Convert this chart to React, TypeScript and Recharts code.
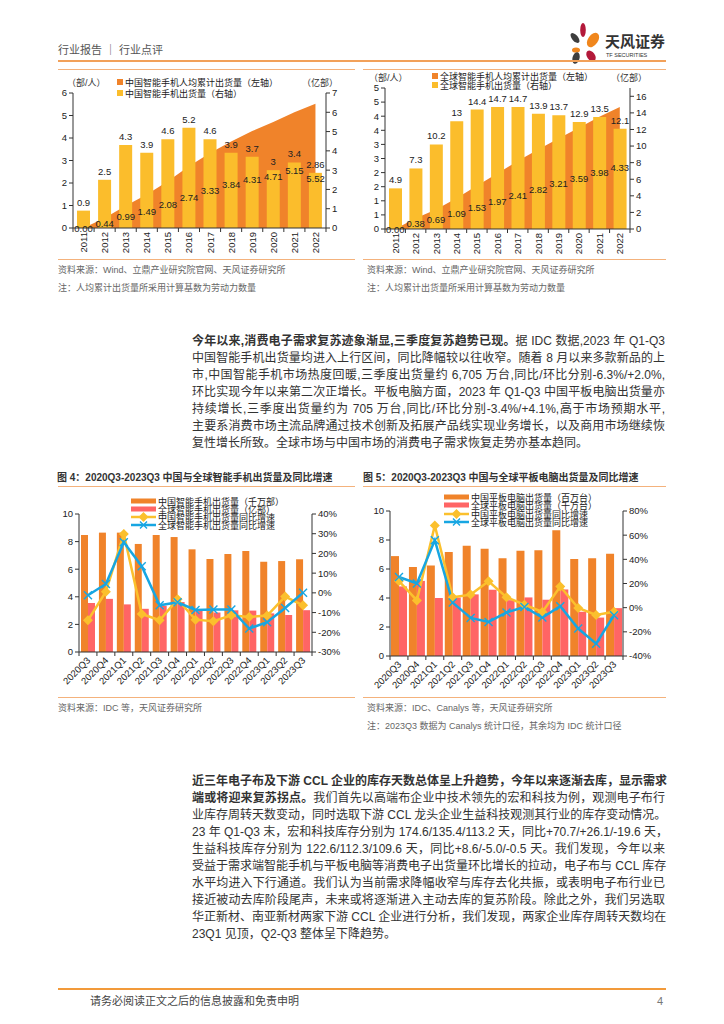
import React from "react";
import { ComposedChart, Bar, Area, Line, XAxis, YAxis, LabelList } from "recharts";

// ── data ────────────────────────────────────────────────────────

const years = ["2011", "2012", "2013", "2014", "2015", "2016", "2017", "2018", "2019", "2020", "2021", "2022"];
const cnPerCapita = [0.0, 0.44, 0.99, 1.49, 2.08, 2.74, 3.33, 3.84, 4.31, 4.71, 5.15, 5.52];
const cnShipments = [0.9, 2.5, 4.3, 3.9, 4.6, 5.2, 4.6, 3.9, 3.7, 3, 3.4, 2.86];
const glPerCapita = [0.0, 0.38, 0.69, 1.09, 1.53, 1.97, 2.41, 2.82, 3.21, 3.59, 3.98, 4.33];
const glShipments = [4.9, 7.3, 10.2, 13, 14.4, 14.7, 14.7, 13.9, 13.7, 12.9, 13.5, 12.1];

const cnLeftTicks = [0, 1, 2, 3, 4, 5, 6];
const cnRightTicks = [0, 1, 2, 3, 4, 5, 6, 7];
const glLeftTicks = [0, 0.5, 1, 1.5, 2, 2.5, 3, 3.5, 4, 4.5, 5];
const glLeftTickLabels = ["0", "1", "1", "2", "2", "3", "3", "4", "4", "5", "5"];
const glRightTicks = [0, 2, 4, 6, 8, 10, 12, 14, 16];

const quarters = ["2020Q3", "2020Q4", "2021Q1", "2021Q2", "2021Q3", "2021Q4", "2022Q1", "2022Q2", "2022Q3", "2022Q4", "2023Q1", "2023Q2", "2023Q3"];
const cnPhone = [8.48, 8.65, 8.65, 7.83, 8.48, 8.33, 7.44, 6.74, 7.1, 7.32, 6.54, 6.59, 6.72];
const glPhone = [3.55, 3.85, 3.45, 3.13, 3.35, 3.62, 3.1, 2.86, 3.02, 3.0, 2.8, 2.68, 3.03];
const cnPhoneYoy = [-13.9, 0.6, 29.9, -10.7, -13.9, -3.3, -13.6, -14.4, -11.4, -12.2, -11.5, -1.9, -6.3];
const glPhoneYoy = [-1.2, 4.5, 25.7, 13.5, -6.3, -4.8, -8.7, -8.5, -8.4, -18.1, -14.9, -7.7, 0.1];
const phoneLeftTicks = [0, 2, 4, 6, 8, 10];
const phoneRightTicks = [-30, -20, -10, 0, 10, 20, 30, 40];

const cnPad = [6.89, 6.13, 6.25, 7.17, 7.61, 7.4, 6.75, 7.26, 7.29, 8.67, 6.69, 6.75, 7.05];
const glPad = [4.8, 5.18, 4.0, 4.03, 4.25, 4.57, 3.85, 4.04, 3.88, 4.59, 3.05, 2.65, 3.3];
const cnPadYoy = [22, 6, 68, 8.6, 10.8, 21.8, 8.6, 2.5, -3.5, 17.5, -0.3, -6, -3.4];
const glPadYoy = [25.4, 20, 55.8, 4.2, -8.5, -11.8, -4, 0.6, -8.2, 1.2, -17.3, -29.8, -6.3];
const padLeftTicks = [0, 2, 4, 6, 8, 10];
const padRightTicks = [-40, -20, 0, 20, 40, 60, 80];

// ── styles ──────────────────────────────────────────────────────

const NUM = '"Liberation Sans", Arial, sans-serif';
const CN = '"Liberation Sans", "Noto Sans CJK SC", sans-serif';
const ORANGE = "#F0832A";
const YELLOW = "#FBBD2C";
const PINK = "#FF6565";
const GOLD = "#FBC02D";
const BLUE = "#17A6E2";
const AXIS = "#333";
const RULE = "#F4B27C";

const tickStyle = { fontSize: 9.5, fill: "#222", fontFamily: NUM };

// x ticks with marks between categories, labels rotated
const makeTick = (bw: number, n: number, angle: number) => (props: any) => {
  const { x, y, payload, index } = props;
  const tx = angle === -90 ? x : x + 3;
  const ty = angle === -90 ? y + 4 : y + 9;
  return (
    <g>
      <line x1={x - bw / 2} x2={x - bw / 2} y1={y} y2={y + 4} stroke={AXIS} />
      {index === n - 1 && <line x1={x + bw / 2} x2={x + bw / 2} y1={y} y2={y + 4} stroke={AXIS} />}
      <text
        x={tx}
        y={ty}
        transform={`rotate(${angle} ${tx} ${ty})`}
        textAnchor="end"
        dominantBaseline={angle === -90 ? "central" : "auto"}
        fontSize={9.5}
        fill="#222"
        fontFamily={NUM}
      >
        {payload.value}
      </text>
    </g>
  );
};

// label of the cumulative series, set halfway down its area,
// pushed below the bar's own label when the two would collide
const midLabel = (base: number, plotH: number, rightMax: number, ships: number[]) => (props: any) => {
  const vb = props.viewBox || {};
  const x = (vb.x ?? props.x) + (vb.width || 0) / 2;
  const y = vb.y ?? props.y;
  const barTop = base - (ships[props.index] / rightMax) * plotH;
  const ly = Math.max((y + base) / 2, barTop + 6);
  return (
    <text x={x} y={ly} textAnchor="middle" dominantBaseline="central" fontSize={9.5} fill="#222" fontFamily={NUM}>
      {Number(props.value).toFixed(2)}
    </text>
  );
};

const Diamond = (p: any) => (
  <path key={p.index} d={`M${p.cx} ${p.cy - 5}L${p.cx + 5} ${p.cy}L${p.cx} ${p.cy + 5}L${p.cx - 5} ${p.cy}Z`} fill={GOLD} />
);
const Cross = (p: any) => (
  <path key={p.index} d={`M${p.cx - 4} ${p.cy - 4}L${p.cx + 4} ${p.cy + 4}M${p.cx + 4} ${p.cy - 4}L${p.cx - 4} ${p.cy + 4}`} stroke={BLUE} strokeWidth={1.4} />
);

// ── small layout helpers ────────────────────────────────────────

function Txt({ x, y, size = 9, color = "#333", bold = false, children }: any) {
  return (
    <div
      style={{
        position: "absolute",
        left: x,
        top: y - size,
        height: size * 2,
        lineHeight: `${size * 2}px`,
        fontSize: size,
        color,
        fontWeight: bold ? 700 : 400,
        fontFamily: CN,
        whiteSpace: "nowrap",
      }}
    >
      {children}
    </div>
  );
}

function Rule({ x1, x2, y, h = 1, color = RULE }: any) {
  return <div style={{ position: "absolute", left: x1, top: y, width: x2 - x1, height: h, background: color }} />;
}

function LegendRow({ x, y, kind, color, label }: any) {
  return (
    <div style={{ position: "absolute", left: x, top: y - 6, height: 12, display: "flex", alignItems: "center" }}>
      <svg width={26} height={12} style={{ display: "block" }}>
        {kind === "bar" && <rect x={0} y={3.5} width={25} height={5} fill={color} />}
        {kind === "diamond" && (
          <>
            <line x1={0} x2={25} y1={6} y2={6} stroke={color} strokeWidth={2.5} />
            <path d="M12.5 1L17.5 6L12.5 11L7.5 6Z" fill={color} />
          </>
        )}
        {kind === "cross" && (
          <>
            <line x1={0} x2={25} y1={6} y2={6} stroke={color} strokeWidth={2.5} />
            <path d="M9 2.5L16 9.5M16 2.5L9 9.5" stroke={color} strokeWidth={1.4} />
          </>
        )}
      </svg>
      <span style={{ fontSize: 9, fontFamily: CN, color: "#222", marginLeft: 1 }}>{label}</span>
    </div>
  );
}

function SquareRow({ x, y, color, label }: any) {
  return (
    <div style={{ position: "absolute", left: x, top: y - 6, height: 12, display: "flex", alignItems: "center" }}>
      <div style={{ width: 6, height: 6, background: color, marginRight: 2 }} />
      <span style={{ fontSize: 9, fontFamily: CN, color: "#222" }}>{label}</span>
    </div>
  );
}

// ── charts ──────────────────────────────────────────────────────

function AnnualChart({ left, top, perCapita, shipments, leftTicks, leftLabels, leftMax, rightTicks, rightMax, yl, yr, plotH }: any) {
  const data = years.map((y, i) => ({ year: y, perCapita: perCapita[i], ship: shipments[i] }));
  const width = 320;
  const height = 190;
  const plotW = width - yl - yr;
  const xh = height - 13 - plotH;
  return (
    <div style={{ position: "absolute", left, top }}>
      <ComposedChart width={width} height={height} data={data} margin={{ top: 13, right: 0, bottom: 0, left: 0 }} barSize={13}>
        <XAxis
          dataKey="year"
          height={xh}
          interval={0}
          tickLine={false}
          tickSize={0}
          tickMargin={0}
          axisLine={{ stroke: AXIS }}
          tick={makeTick(plotW / years.length, years.length, -90)}
        />
        <YAxis
          yAxisId="l"
          width={yl}
          domain={[0, leftMax]}
          ticks={leftTicks}
          tickFormatter={(v: number, i: number) => (leftLabels ? leftLabels[i] : String(v))}
          tick={tickStyle}
          tickSize={4}
          tickLine={{ stroke: AXIS }}
          axisLine={{ stroke: AXIS }}
          interval={0}
        />
        <YAxis
          yAxisId="r"
          orientation="right"
          width={yr}
          domain={[0, rightMax]}
          ticks={rightTicks}
          tick={tickStyle}
          tickSize={4}
          tickLine={{ stroke: AXIS }}
          axisLine={{ stroke: AXIS }}
          interval={0}
        />
        <Area yAxisId="l" dataKey="perCapita" type="linear" stroke="none" fill={ORANGE} fillOpacity={1} isAnimationActive={false} />
        <Bar yAxisId="r" dataKey="ship" fill={YELLOW} isAnimationActive={false}>
          <LabelList dataKey="ship" position="top" offset={5} style={{ fontSize: 9.5, fill: "#222", fontFamily: NUM }} />
        </Bar>
        <Line yAxisId="l" dataKey="perCapita" stroke="none" dot={false} activeDot={false} isAnimationActive={false}>
          <LabelList dataKey="perCapita" content={midLabel(13 + plotH, plotH, rightMax, shipments)} />
        </Line>
      </ComposedChart>
    </div>
  );
}

function QuarterChart({ left, top, height, cn, gl, cnYoy, glYoy, leftTicks, rightTicks, rightDomain, yl, yr, plotW, plotH, barSize }: any) {
  const data = quarters.map((q, i) => ({ q, cn: cn[i], gl: gl[i], cnYoy: cnYoy[i], glYoy: glYoy[i] }));
  const width = yl + yr + plotW;
  const xh = height - 14 - plotH;
  return (
    <div style={{ position: "absolute", left, top }}>
      <ComposedChart width={width} height={height} data={data} margin={{ top: 14, right: 0, bottom: 0, left: 0 }} barGap={0} barSize={barSize}>
        <XAxis
          dataKey="q"
          height={xh}
          interval={0}
          tickLine={false}
          tickSize={0}
          tickMargin={0}
          axisLine={{ stroke: AXIS }}
          tick={makeTick(plotW / quarters.length, quarters.length, -45)}
        />
        <YAxis
          yAxisId="l"
          width={yl}
          domain={[0, 10]}
          ticks={leftTicks}
          tick={tickStyle}
          tickSize={4}
          tickLine={{ stroke: AXIS }}
          axisLine={{ stroke: AXIS }}
          interval={0}
        />
        <YAxis
          yAxisId="r"
          orientation="right"
          width={yr}
          domain={rightDomain}
          ticks={rightTicks}
          tickFormatter={(v: number) => `${v}%`}
          tick={tickStyle}
          tickSize={4}
          tickLine={{ stroke: AXIS }}
          axisLine={{ stroke: AXIS }}
          interval={0}
        />
        <Bar yAxisId="l" dataKey="cn" fill={ORANGE} isAnimationActive={false} />
        <Bar yAxisId="l" dataKey="gl" fill={PINK} isAnimationActive={false} />
        <Line yAxisId="r" dataKey="cnYoy" type="linear" stroke={GOLD} strokeWidth={2.5} dot={Diamond} activeDot={false} isAnimationActive={false} />
        <Line yAxisId="r" dataKey="glYoy" type="linear" stroke={BLUE} strokeWidth={2.5} dot={Cross} activeDot={false} isAnimationActive={false} />
      </ComposedChart>
    </div>
  );
}

// ── body text ───────────────────────────────────────────────────

const para1 = [
  [["今年以来,消费电子需求复苏迹象渐显,三季度复苏趋势已现。", true], ["据 IDC 数据,2023 年 Q1-Q3", false]],
  [["中国智能手机出货量均进入上行区间，同比降幅较以往收窄。随着 8 月以来多款新品的上", false]],
  [["市,中国智能手机市场热度回暖,三季度出货量约 6,705 万台,同比/环比分别-6.3%/+2.0%,", false]],
  [["环比实现今年以来第二次正增长。平板电脑方面，2023 年 Q1-Q3 中国平板电脑出货量亦", false]],
  [["持续增长,三季度出货量约为 705 万台,同比/环比分别-3.4%/+4.1%,高于市场预期水平,", false]],
  [["主要系消费市场主流品牌通过技术创新及拓展产品线实现业务增长，以及商用市场继续恢", false]],
  [["复性增长所致。全球市场与中国市场的消费电子需求恢复走势亦基本趋同。", false]],
];

const para2 = [
  [["近三年电子布及下游 CCL 企业的库存天数总体呈上升趋势，今年以来逐渐去库，显示需求", true]],
  [["端或将迎来复苏拐点。", true], ["我们首先以高端布企业中技术领先的宏和科技为例，观测电子布行", false]],
  [["业库存周转天数变动，同时选取下游 CCL 龙头企业生益科技观测其行业的库存变动情况。", false]],
  [["23 年 Q1-Q3 末，宏和科技库存分别为 174.6/135.4/113.2 天，同比+70.7/+26.1/-19.6 天，", false]],
  [["生益科技库存分别为 122.6/112.3/109.6 天，同比+8.6/-5.0/-0.5 天。我们发现，今年以来", false]],
  [["受益于需求端智能手机与平板电脑等消费电子出货量环比增长的拉动，电子布与 CCL 库存", false]],
  [["水平均进入下行通道。我们认为当前需求降幅收窄与库存去化共振，或表明电子布行业已", false]],
  [["接近被动去库阶段尾声，未来或将逐渐进入主动去库的复苏阶段。除此之外，我们另选取", false]],
  [["华正新材、南亚新材两家下游 CCL 企业进行分析，我们发现，两家企业库存周转天数均在", false]],
  [["23Q1 见顶，Q2-Q3 整体呈下降趋势。", false]],
];

function Paragraph({ lines, x, y, width }: any) {
  return (
    <>
      {lines.map((parts: any[], i: number) => (
        <div
          key={i}
          style={{
            position: "absolute",
            left: x,
            top: y + i * 17,
            width,
            height: 17,
            lineHeight: "17px",
            fontSize: 12,
            fontFamily: CN,
            color: "#333",
            whiteSpace: "nowrap",
            textAlign: "justify",
            textAlignLast: i === lines.length - 1 ? "left" : "justify",
          }}
        >
          {parts.map(([t, b]: any, j: number) => (
            <span key={j} style={{ fontWeight: b ? 700 : 400 }}>
              {t}
            </span>
          ))}
        </div>
      ))}
    </>
  );
}

// ── page ────────────────────────────────────────────────────────

export default function App() {
  return (
    <div style={{ position: "absolute", left: 0, top: 0, width: 724, height: 1024, background: "#fff", overflow: "hidden" }}>
      {/* header */}
      <Txt x={58} y={50} size={11} color="#555">行业报告 ｜ 行业点评</Txt>
      <svg width={724} height={70} style={{ position: "absolute", left: 0, top: 0 }}>
        <ellipse cx={583} cy={30} rx={2.8} ry={7} fill="#B3193A" />
        <ellipse cx={575} cy={38} rx={3} ry={6} fill="#3E3E3E" transform="rotate(-40 575 38)" />
        <ellipse cx={593} cy={40} rx={5} ry={8} fill="#F0861C" transform="rotate(35 593 40)" />
        <ellipse cx={576} cy={50} rx={4} ry={2.6} fill="#F0861C" />
        <ellipse cx={576} cy={58} rx={3.5} ry={6} fill="#3E3E3E" transform="rotate(15 576 58)" />
        <ellipse cx={591} cy={56} rx={4} ry={6} fill="#B3193A" transform="rotate(-35 591 56)" />
        <text x={605} y={47} fontSize={15} fontWeight={700} fill="#333" fontFamily='"Noto Sans CJK SC"'>天风证券</text>
        <text x={606} y={57} fontSize={5.5} fill="#333" fontFamily={NUM}>TF SECURITIES</text>
      </svg>
      <Rule x1={58} x2={666} y={60} h={2} color="#F2A15A" />

      {/* top charts frame */}
      <Rule x1={58} x2={355} y={69} />
      <Rule x1={363} x2={666} y={69} />
      <Rule x1={58} x2={355} y={259} />
      <Rule x1={363} x2={666} y={259} />

      <AnnualChart
        left={40}
        top={80}
        perCapita={cnPerCapita}
        shipments={cnShipments}
        leftTicks={cnLeftTicks}
        leftMax={6}
        rightTicks={cnRightTicks}
        rightMax={7}
        yl={33}
        yr={34}
        plotH={135}
      />
      <Txt x={67} y={83} size={9}>（部/人）</Txt>
      <Txt x={302} y={83} size={9}>（亿部）</Txt>
      <SquareRow x={117} y={82} color={ORANGE} label="中国智能手机人均累计出货量（左轴）" />
      <SquareRow x={117} y={93} color={YELLOW} label="中国智能手机出货量（右轴）" />

      <AnnualChart
        left={345}
        top={75}
        perCapita={glPerCapita}
        shipments={glShipments}
        leftTicks={glLeftTicks}
        leftLabels={glLeftTickLabels}
        leftMax={5}
        rightTicks={glRightTicks}
        rightMax={17}
        yl={40}
        yr={35}
        plotH={141}
      />
      <Txt x={369} y={78} size={9}>（部/人）</Txt>
      <Txt x={611} y={78} size={9}>（亿部）</Txt>
      <SquareRow x={432} y={76} color={ORANGE} label="全球智能手机人均累计出货量（左轴）" />
      <SquareRow x={432} y={85} color={YELLOW} label="全球智能手机出货量（右轴）" />

      <Txt x={58} y={270} size={9} color="#666">资料来源：Wind、立鼎产业研究院官网、天风证券研究所</Txt>
      <Txt x={58} y={288} size={9} color="#666">注：人均累计出货量所采用计算基数为劳动力数量</Txt>
      <Txt x={367} y={270} size={9} color="#666">资料来源：Wind、立鼎产业研究院官网、天风证券研究所</Txt>
      <Txt x={367} y={288} size={9} color="#666">注：人均累计出货量所采用计算基数为劳动力数量</Txt>

      <Paragraph lines={para1} x={192} y={333} width={473} />

      {/* bottom charts */}
      <Txt x={57} y={478} size={10} bold>图 4：2020Q3-2023Q3 中国与全球智能手机出货量及同比增速</Txt>
      <Txt x={363} y={478} size={10} bold>图 5：2020Q3-2023Q3 中国与全球平板电脑出货量及同比增速</Txt>
      <Rule x1={58} x2={355} y={486} />
      <Rule x1={363} x2={666} y={486} />
      <Rule x1={58} x2={355} y={697} />
      <Rule x1={363} x2={666} y={697} />

      <QuarterChart
        left={40}
        top={500}
        height={200}
        cn={cnPhone}
        gl={glPhone}
        cnYoy={cnPhoneYoy}
        glYoy={glPhoneYoy}
        leftTicks={phoneLeftTicks}
        rightTicks={phoneRightTicks}
        rightDomain={[-30, 40]}
        yl={39}
        yr={38}
        plotW={233}
        plotH={138}
        barSize={7}
      />
      <LegendRow x={131} y={501} kind="bar" color={ORANGE} label="中国智能手机出货量（千万部）" />
      <LegendRow x={131} y={509} kind="bar" color={PINK} label="全球智能手机出货量（亿部）" />
      <LegendRow x={131} y={517} kind="diamond" color={GOLD} label="中国智能手机出货量同比增速" />
      <LegendRow x={131} y={525} kind="cross" color={BLUE} label="全球智能手机出货量同比增速" />

      <QuarterChart
        left={350}
        top={497}
        height={206}
        cn={cnPad}
        gl={glPad}
        cnYoy={cnPadYoy}
        glYoy={glPadYoy}
        leftTicks={padLeftTicks}
        rightTicks={padRightTicks}
        rightDomain={[-40, 80]}
        yl={40}
        yr={37}
        plotW={233}
        plotH={145}
        barSize={8}
      />
      <LegendRow x={444} y={497} kind="bar" color={ORANGE} label="中国平板电脑出货量（百万台）" />
      <LegendRow x={444} y={505} kind="bar" color={PINK} label="全球平板电脑出货量（千万台）" />
      <LegendRow x={444} y={514} kind="diamond" color={GOLD} label="中国平板电脑出货量同比增速" />
      <LegendRow x={444} y={522} kind="cross" color={BLUE} label="全球平板电脑出货量同比增速" />

      <Txt x={58} y={708} size={9} color="#666">资料来源：IDC 等，天风证券研究所</Txt>
      <Txt x={367} y={708} size={9} color="#666">资料来源：IDC、Canalys 等，天风证券研究所</Txt>
      <Txt x={367} y={726} size={9} color="#666">注：2023Q3 数据为 Canalys 统计口径，其余均为 IDC 统计口径</Txt>

      <Paragraph lines={para2} x={192} y={773} width={473} />

      {/* footer */}
      <Rule x1={58} x2={666} y={988} h={2} color="#F29A3A" />
      <Txt x={90} y={1001} size={11} color="#444">请务必阅读正文之后的信息披露和免责申明</Txt>
      <Txt x={657} y={1001} size={11} color="#777">4</Txt>
    </div>
  );
}
